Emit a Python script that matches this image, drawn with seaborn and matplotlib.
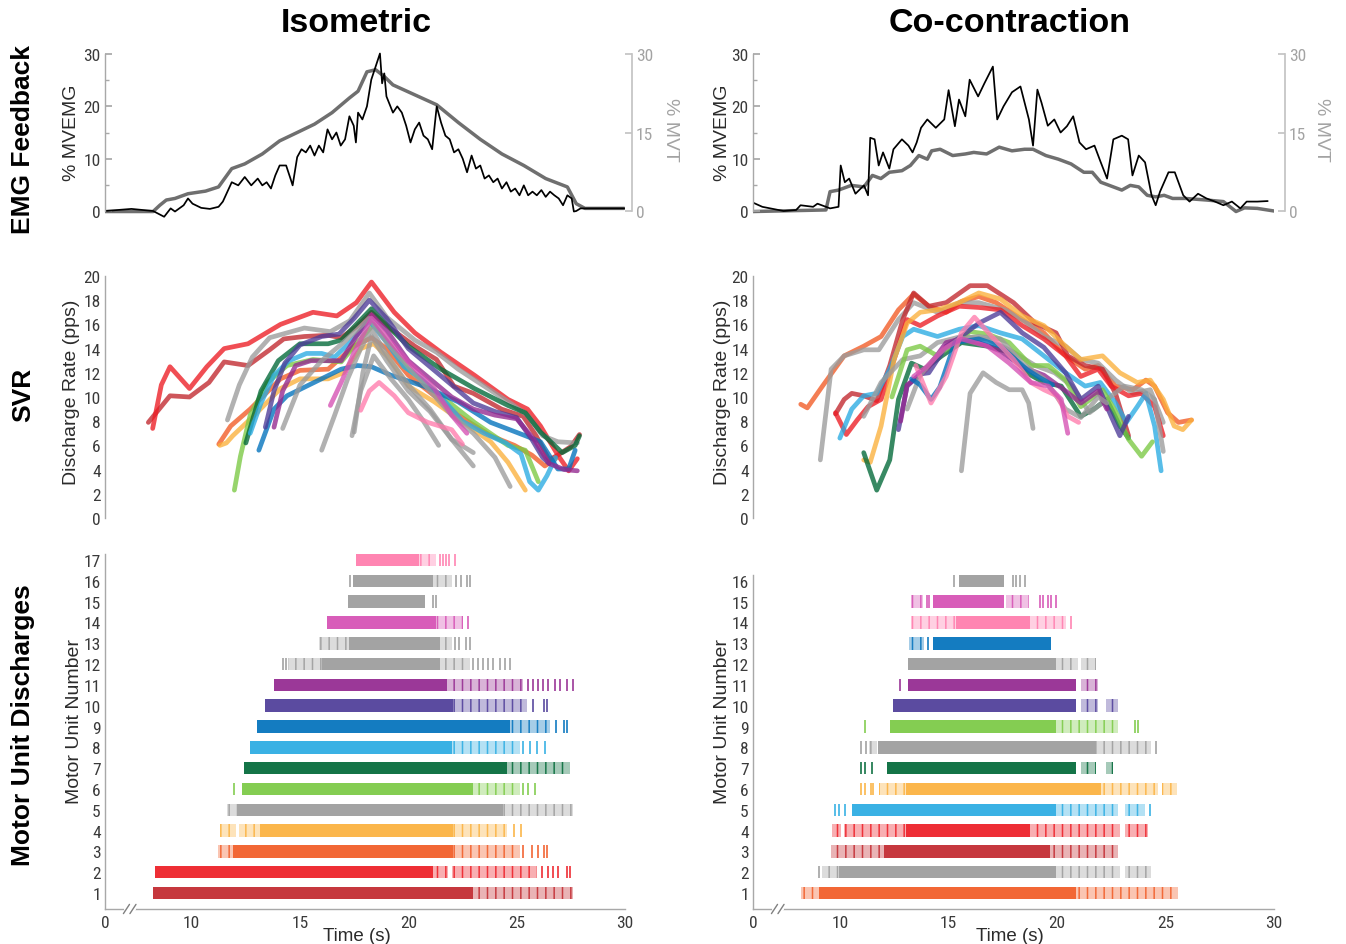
import matplotlib
matplotlib.use("Agg")
import matplotlib.pyplot as plt
import matplotlib.transforms as mtransforms
from matplotlib import font_manager
import seaborn as sns
import pandas as pd

# ---------------- colours ----------------
COL = {'darkred': '#c1272d', 'red': '#ed1c24', 'orange': '#f15a24', 'yellow': '#fbb03b',
       'gray': '#9b9b9b', 'lgreen': '#7ac943', 'dgreen': '#006837', 'lblue': '#29abe2',
       'blue': '#0071bc', 'indigo': '#4d3b98', 'purple': '#93278f', 'magenta': '#d54fb3',
       'pink': '#ff7bac'}

# ---------------- EMG feedback (black = %MVEMG, gray = %MVT) ----------------
emgL_t = [6.0, 7.22, 8.22, 8.73, 9.03, 9.23, 9.63, 9.83, 10.04, 10.44, 10.84, 11.24, 11.44, 11.65, 11.85,
          12.15, 12.45, 12.75, 13.05, 13.26, 13.46, 13.66, 13.86, 14.06, 14.36, 14.56, 14.66, 14.87, 15.07,
          15.27, 15.47, 15.67, 15.87, 16.07, 16.27, 16.48, 16.68, 16.88, 17.08, 17.28, 17.48, 17.58, 17.68,
          17.88, 18.09, 18.29, 18.49, 18.69, 18.79, 18.89, 18.99, 19.29, 19.49, 19.70, 19.90, 20.10, 20.30,
          20.50, 20.70, 20.90, 21.10, 21.31, 21.51, 21.71, 21.91, 22.11, 22.31, 22.51, 22.71, 22.92, 23.12,
          23.32, 23.52, 23.72, 23.92, 24.12, 24.32, 24.53, 24.73, 24.93, 25.13, 25.33, 25.53, 25.73, 25.93,
          26.14, 26.34, 26.54, 26.74, 26.94, 27.14, 27.34, 27.54, 27.64, 27.75, 27.95, 28.35, 29.96]
emgL_v = [0, 0.4, 0, -1.1, 0.5, -0.1, 1.1, 2.4, 1.4, 0.6, 0.4, 0.8, 1.8, 3.7, 5.5, 4.9, 6.5, 4.9, 6.2, 4.9,
          5.5, 4.3, 6.8, 8.7, 8.7, 6.2, 4.9, 10.3, 11.8, 11.2, 12.5, 10.6, 12.5, 11.2, 15.6, 13.7, 15.0, 12.5,
          13.7, 18.1, 16.3, 13.1, 18.8, 17.5, 20.0, 25.1, 27.6, 30.1, 24.4, 26.3, 21.9, 18.8, 20.0, 18.8, 16.3,
          13.1, 15.6, 16.9, 14.4, 13.7, 11.8, 20.0, 16.9, 14.4, 13.7, 11.2, 11.8, 10.0, 7.4, 10.6, 8.1, 8.7,
          6.2, 6.8, 5.5, 6.2, 4.3, 5.5, 3.7, 4.3, 3.0, 4.9, 3.0, 3.7, 3.0, 4.0, 2.7, 3.7, 3.0, 2.4, 1.1, 3.0,
          2.4, -0.1, 0, 0.5, 0.5, 0.5]
mvtL_t = [6.0, 8.22, 8.53, 8.83, 9.23, 9.83, 10.64, 11.24, 11.85, 12.45, 13.26, 14.06, 14.87, 15.67, 16.48,
          17.28, 17.68, 18.09, 18.49, 18.89, 19.29, 20.3, 21.31, 22.31, 23.32, 24.32, 25.33, 26.34, 27.34,
          27.75, 28.15, 29.96]
mvtL_v = [-0.1, -0.1, 1.1, 2.1, 2.4, 3.3, 3.8, 4.6, 8.1, 9.0, 10.9, 13.4, 15.0, 16.6, 18.8, 21.6, 22.9, 26.6,
          27.0, 25.7, 24.1, 22.2, 20.3, 16.9, 13.7, 10.9, 8.7, 6.2, 4.6, 1.4, 0.5, 0.5]

emgR_t = [6.0, 6.43, 7.41, 7.99, 8.19, 8.77, 8.97, 9.36, 9.55, 9.94, 10.04, 10.23, 10.43, 10.72, 11.11, 11.30,
          11.40, 11.60, 11.79, 11.99, 12.28, 12.47, 12.86, 13.16, 13.35, 13.54, 13.74, 14.03, 14.42, 14.81,
          15.01, 15.30, 15.49, 15.78, 15.98, 16.37, 16.66, 17.05, 17.25, 17.54, 17.93, 18.32, 18.71, 18.90,
          19.10, 19.29, 19.58, 19.88, 20.17, 20.46, 20.75, 21.04, 21.34, 21.73, 22.02, 22.31, 22.60, 22.99,
          23.28, 23.48, 23.77, 24.06, 24.36, 24.55, 24.75, 25.14, 25.43, 25.82, 26.11, 26.50, 26.89, 27.28,
          27.67, 28.06, 28.45, 28.74, 29.23, 29.71]
emgR_v = [1.6, 0.8, 0.0, 0.2, 1.1, 0.8, 1.4, 0.8, 0.5, 0.8, 8.7, 5.5, 6.2, 3.3, 4.9, 3.0, 14.0, 13.7, 8.7,
          11.2, 8.1, 11.8, 13.7, 12.5, 11.2, 13.1, 15.9, 17.5, 15.9, 17.5, 23.1, 16.2, 21.3, 18.1, 25.1, 21.9,
          24.4, 27.6, 17.5, 20.0, 22.7, 23.8, 17.5, 12.5, 23.2, 20.7, 16.3, 17.5, 15.0, 16.2, 18.1, 13.1, 11.8,
          12.5, 9.3, 6.2, 13.7, 14.4, 13.7, 6.8, 10.6, 9.3, 3.0, 1.1, 3.7, 7.4, 7.4, 3.0, 1.8, 3.3, 2.4, 1.8,
          1.1, 1.8, 0.5, 1.8, 1.8, 1.9]
mvtR_t = [6.0, 9.36, 9.55, 9.94, 10.53, 11.11, 11.50, 11.89, 12.28, 12.86, 13.25, 13.64, 14.03, 14.23, 14.62,
          15.20, 15.78, 16.17, 16.76, 17.34, 17.93, 18.51, 18.90, 19.49, 20.07, 20.65, 21.24, 21.63, 22.02,
          22.41, 22.99, 23.38, 23.77, 24.16, 24.55, 24.94, 25.33, 25.91, 26.89, 27.67, 28.25, 28.64, 29.23, 30.0]
mvtR_v = [-0.1, 0.2, 3.7, 4.0, 4.9, 4.6, 6.8, 6.2, 7.4, 7.7, 8.7, 10.6, 9.9, 11.5, 11.8, 10.6, 10.9, 11.2,
          10.9, 12.2, 11.5, 11.8, 11.8, 10.6, 9.9, 9.0, 7.4, 7.4, 5.5, 4.9, 4.0, 4.9, 4.6, 3.0, 2.7, 3.0, 2.4,
          2.4, 2.1, 1.8, -0.1, 0.6, 0.5, 0.0]

# ---------------- Motor unit colours (MU 1 .. N) ----------------
muL_col = ['darkred', 'red', 'orange', 'yellow', 'gray', 'lgreen', 'dgreen', 'lblue', 'blue', 'indigo',
           'purple', 'gray', 'gray', 'magenta', 'gray', 'gray', 'pink']
muR_col = ['orange', 'gray', 'darkred', 'red', 'lblue', 'yellow', 'dgreen', 'gray', 'lgreen', 'indigo',
           'purple', 'gray', 'blue', 'pink', 'magenta', 'gray']

# ---------------- SVR discharge rates (pps) ----------------
svrL_t = [
    [8.0, 8.5, 9.0, 9.9, 10.8, 11.5, 12.6, 13.6, 14.25, 15.2, 16.3, 16.9, 17.6, 18.3, 19.0, 20.3, 21.3, 22.1, 23.0, 24.3, 25.3, 25.9, 26.5, 26.9, 27.5, 27.9],
    [8.2, 8.6, 9.0, 9.5, 9.9, 10.7, 11.5, 12.6, 14.1, 15.6, 16.7, 17.6, 18.3, 19.35, 20.3, 21.5, 23.05, 24.6, 25.5, 26.1, 26.9, 27.4, 27.8],
    [11.25, 11.8, 12.7, 14.1, 15.0, 16.3, 17.5, 18.3, 19.0, 20.0, 21.2, 22.3, 23.8, 24.9, 25.7, 26.3, 26.8],
    [11.3, 11.6, 11.9, 12.9, 14.1, 15.0, 16.3, 17.0, 17.8, 18.4, 19.0, 20.0, 21.2, 22.3, 23.8, 24.6, 25.4],
    [11.65, 12.2, 12.8, 13.6, 15.2, 16.4, 17.3, 18.2, 19.0, 20.3, 21.3, 22.3, 23.5, 24.7, 25.5, 26.2, 26.9, 27.8],
    [11.97, 12.25, 12.7, 13.5, 14.4, 15.6, 16.9, 17.65, 18.4, 19.2, 20.0, 21.5, 23.05, 24.6, 25.4, 26.0],
    [12.5, 13.2, 14.0, 15.0, 16.3, 16.9, 18.3, 19.2, 20.0, 21.5, 23.05, 24.6, 25.4, 26.1, 27.1, 27.7, 27.9],
    [12.7, 13.2, 13.8, 14.5, 15.3, 16.0, 16.6, 17.3, 18.2, 19.0, 19.8, 20.6, 21.5, 22.5, 23.5, 24.5, 25.2, 25.6, 26.0, 26.4, 26.8],
    [13.1, 13.8, 14.4, 15.65, 16.9, 17.65, 18.3, 19.2, 20.7, 22.3, 23.8, 25.4, 26.1, 26.9, 27.4, 27.7],
    [13.4, 13.8, 14.3, 15.0, 16.0, 16.8, 17.5, 18.2, 19.0, 20.0, 21.0, 22.0, 23.0, 24.0, 25.0, 25.7, 26.2, 26.5],
    [13.8, 14.2, 14.8, 15.5, 16.3, 16.9, 17.6, 18.3, 19.0, 20.0, 21.0, 22.0, 23.0, 24.0, 25.0, 25.8, 26.5, 27.2, 27.8],
    [14.2, 15.0, 16.0, 17.0, 18.2, 19.0, 20.0, 21.0, 22.0, 23.0, 24.0, 24.7],
    [16.0, 16.6, 17.2, 17.8, 18.3, 19.0, 20.0, 21.0, 22.0, 23.0],
    [16.4, 16.9, 17.5, 18.3, 19.2, 20.0, 21.2, 22.0, 22.7],
    [17.4, 17.8, 18.4, 19.2, 20.0, 20.7, 21.4],
    [17.5, 17.9, 18.3, 19.0, 20.0, 21.0, 22.0, 23.0],
    [17.8, 18.2, 18.65, 19.35, 20.0, 20.9, 22.0, 22.5],
]
svrL_v = [
    [7.9, 9.0, 10.1, 10.0, 11.2, 12.9, 12.6, 13.9, 14.8, 15.0, 15.1, 14.9, 15.8, 17.0, 15.9, 14.2, 13.1, 10.9, 10.3, 9.0, 8.4, 6.8, 4.8, 5.2, 5.9, 6.9],
    [7.4, 11.0, 12.5, 11.5, 10.7, 12.5, 14.0, 14.4, 16.0, 17.0, 16.7, 17.8, 19.5, 17.0, 15.3, 13.7, 11.8, 9.8, 9.0, 7.6, 5.2, 3.9, 4.9],
    [6.1, 7.6, 9.0, 11.5, 12.2, 12.3, 14.2, 14.9, 14.0, 11.8, 10.1, 8.5, 6.8, 6.0, 5.2, 4.3, 4.9],
    [6.0, 6.2, 6.8, 8.5, 10.7, 11.5, 11.5, 12.0, 14.0, 14.4, 13.4, 10.9, 9.6, 8.2, 6.3, 4.6, 2.3],
    [8.1, 11.0, 13.3, 14.9, 15.7, 15.4, 16.3, 18.6, 16.6, 14.7, 13.7, 12.3, 10.9, 9.5, 8.5, 6.8, 6.3, 6.2],
    [2.3, 5.1, 8.5, 11.2, 12.6, 13.1, 12.9, 14.5, 16.0, 14.2, 12.3, 10.1, 7.9, 6.0, 5.6, 3.0],
    [6.2, 10.5, 13.0, 14.4, 14.4, 14.7, 17.3, 15.6, 14.2, 12.3, 10.7, 9.3, 8.7, 7.1, 5.4, 6.0, 6.8],
    [7.0, 9.5, 11.8, 13.0, 13.6, 13.6, 13.3, 14.5, 16.3, 14.5, 12.5, 11.5, 10.0, 8.0, 7.0, 6.2, 5.3, 3.0, 2.3, 3.5, 5.0],
    [5.6, 9.0, 10.1, 11.2, 12.3, 12.6, 12.5, 11.8, 10.9, 9.6, 7.9, 6.8, 6.3, 4.05, 4.05, 5.6],
    [7.5, 10.5, 12.8, 14.3, 15.0, 15.2, 16.5, 18.0, 16.5, 14.0, 12.5, 11.0, 9.5, 8.8, 8.3, 6.5, 5.0, 4.5],
    [7.5, 10.5, 12.6, 13.0, 13.0, 13.0, 15.0, 16.8, 15.5, 13.0, 11.5, 10.0, 9.0, 8.5, 8.2, 6.5, 4.5, 4.0, 3.9],
    [7.4, 11.0, 13.0, 14.5, 16.5, 14.5, 12.5, 10.5, 8.5, 7.0, 5.0, 2.6],
    [5.6, 8.5, 11.5, 14.0, 15.6, 13.5, 11.0, 9.0, 6.5, 4.3],
    [9.3, 11.2, 13.7, 16.5, 14.5, 12.9, 10.7, 8.5, 7.0],
    [6.8, 10.5, 13.4, 11.5, 9.8, 8.0, 6.0],
    [7.1, 12.0, 15.0, 13.0, 10.5, 8.8, 6.5, 5.4],
    [8.9, 10.5, 11.2, 10.1, 8.7, 7.9, 7.3, 6.1],
]
svrR_t = [
    [8.2, 8.5, 9.2, 10.2, 11.1, 11.9, 12.7, 13.4, 14.1, 14.9, 15.6, 16.4, 17.2, 18.4, 19.4, 20.4, 21.3, 21.9, 22.7, 23.5, 24.1, 24.5, 25.1, 25.6, 26.2],
    [9.1, 9.6, 10.2, 11.1, 11.8, 12.7, 13.4, 14.5, 15.5, 16.4, 17.6, 18.4, 19.4, 20.4, 21.1, 21.9, 22.7, 23.5, 24.3, 24.9],
    [9.8, 10.2, 10.55, 11.1, 11.7, 12.3, 12.9, 13.4, 14.1, 14.9, 16.0, 16.8, 18.0, 19.0, 19.96, 20.5, 21.3, 22.1, 22.7, 23.3],
    [9.8, 10.3, 10.8, 11.3, 11.9, 12.5, 13.1, 13.7, 14.5, 15.5, 16.4, 17.4, 18.4, 19.4, 20.4, 21.1, 21.9, 22.5, 23.3, 23.9, 24.5, 24.9],
    [10.0, 10.55, 11.1, 11.7, 12.3, 12.9, 13.4, 14.5, 15.5, 16.4, 17.4, 18.4, 19.4, 20.4, 21.3, 22.0, 22.7, 23.2, 23.7, 24.1, 24.5, 24.8],
    [11.1, 11.4, 11.9, 12.5, 13.1, 13.7, 14.5, 15.5, 16.4, 17.4, 18.4, 19.4, 20.4, 21.1, 22.1, 22.9, 23.7, 24.3, 24.9, 25.4, 25.8, 26.2],
    [11.1, 11.7, 12.3, 12.7, 13.3, 13.9, 14.7, 15.6, 16.8, 17.8, 18.6, 19.4, 20.2, 21.1, 21.7, 22.3, 22.9, 23.3],
    [11.1, 11.9, 12.9, 13.7, 14.5, 15.6, 16.8, 18.0, 19.0, 19.9, 20.7, 21.5, 22.3, 23.1, 23.9, 24.5, 24.9],
    [12.4, 13.1, 13.7, 14.5, 15.3, 16.0, 16.8, 17.8, 18.8, 19.6, 20.4, 21.1, 22.1, 22.7, 23.3, 23.9, 24.4],
    [12.7, 13.1, 13.7, 14.1, 14.9, 15.6, 16.4, 17.4, 18.4, 19.4, 20.4, 21.1, 21.9, 22.5, 22.9, 23.3],
    [12.8, 13.1, 13.7, 14.1, 14.9, 15.6, 16.4, 17.4, 18.4, 19.4, 20.4, 21.1, 21.9, 22.3],
    [13.1, 13.7, 14.5, 15.5, 16.4, 17.4, 18.4, 19.4, 20.4, 21.1, 21.9, 22.3],
    [13.3, 13.7, 14.2, 14.6, 15.3, 16.4, 17.4, 18.6, 19.2, 19.8],
    [13.5, 14.2, 14.9, 15.6, 16.2, 17.0, 18.0, 18.8, 19.4, 20.0, 20.5, 21.0],
    [13.4, 14.0, 14.8, 15.6, 16.8, 17.8, 18.8, 19.6, 20.2, 20.5],
    [15.6, 16.0, 16.6, 17.2, 17.8, 18.4, 18.7, 18.9],
]
svrR_v = [
    [9.4, 9.1, 10.9, 13.4, 14.2, 15.0, 17.2, 18.5, 17.5, 17.0, 17.9, 18.3, 17.8, 16.4, 15.3, 13.4, 12.3, 12.6, 10.9, 10.6, 11.4, 10.9, 8.7, 7.9, 8.1],
    [4.8, 12.3, 13.4, 13.9, 13.9, 16.4, 17.8, 17.0, 17.8, 17.8, 17.2, 16.4, 15.0, 14.2, 13.1, 12.8, 11.4, 10.3, 10.6, 7.9],
    [8.6, 9.8, 10.3, 10.1, 9.7, 12.6, 16.4, 18.6, 17.5, 17.8, 19.2, 19.2, 17.8, 16.1, 15.3, 13.4, 12.6, 12.3, 10.3, 6.8],
    [8.7, 6.9, 8.1, 9.2, 9.8, 13.1, 16.4, 15.9, 16.7, 17.5, 17.4, 17.2, 15.9, 14.8, 13.4, 11.7, 12.3, 10.9, 10.1, 10.3, 9.2, 6.8],
    [6.6, 9.0, 10.1, 10.3, 12.3, 15.0, 15.6, 15.0, 15.6, 15.9, 15.3, 14.8, 13.4, 12.0, 10.9, 11.2, 9.5, 7.9, 9.2, 10.3, 7.6, 3.9],
    [4.8, 4.6, 7.6, 13.1, 16.1, 17.0, 17.2, 17.8, 18.6, 18.1, 16.7, 15.9, 14.2, 13.1, 13.4, 12.0, 11.2, 11.4, 9.8, 7.6, 7.3, 8.1],
    [5.4, 2.3, 4.8, 9.8, 12.8, 12.3, 13.4, 14.5, 14.2, 13.7, 12.0, 11.2, 10.9, 8.4, 9.0, 9.8, 7.6, 6.6],
    [8.4, 11.2, 13.1, 13.4, 14.5, 15.0, 14.8, 13.7, 12.6, 12.0, 10.9, 8.7, 9.8, 10.9, 10.6, 9.8, 5.5],
    [10.0, 13.9, 14.2, 13.4, 14.5, 15.4, 15.2, 14.5, 12.6, 12.6, 11.4, 9.2, 10.6, 8.8, 6.5, 5.1, 6.3],
    [7.3, 10.9, 11.9, 12.0, 14.2, 15.0, 16.1, 17.0, 15.3, 14.1, 12.0, 9.8, 10.9, 8.4, 6.8, 8.4],
    [8.0, 11.0, 11.8, 12.5, 14.5, 14.8, 14.5, 13.8, 12.5, 11.8, 10.5, 9.5, 10.5, 9.0],
    [9.0, 11.8, 13.5, 14.8, 15.0, 14.8, 12.8, 11.5, 9.0, 8.3, 10.0, 9.5],
    [11.5, 11.0, 9.8, 10.8, 14.5, 14.8, 14.2, 12.3, 11.6, 11.0],
    [12.6, 9.5, 11.7, 15.3, 16.6, 15.0, 13.1, 11.2, 10.6, 10.1, 8.4, 7.9],
    [11.7, 12.5, 14.0, 14.8, 14.2, 12.8, 11.2, 10.9, 9.8, 7.0],
    [3.9, 10.3, 12.0, 11.2, 10.6, 10.6, 9.5, 7.4],
]

# ---------------- Motor unit discharges: dense / sparse firing periods and isolated spikes (s) ----------------
rasL_dense = [[(8.2, 23.0)], [(8.31, 21.15)], [(11.9, 22.08)], [(13.15, 22.08)], [(12.08, 24.38)],
              [(12.31, 23.0)], [(12.43, 24.54)], [(12.69, 22.0)], [(13.03, 24.69)], [(13.38, 22.08)],
              [(13.82, 21.77)], [(16.0, 21.46)], [(17.28, 21.46)], [(16.26, 21.3)], [(17.23, 20.77)],
              [(17.46, 21.15)], [(17.6, 20.5)]]
rasL_sparse = [[(23.0, 27.62)], [(21.15, 21.85), (22.0, 25.92)], [(11.23, 11.9), (22.08, 25.15)],
               [(11.31, 12.05), (12.2, 13.15), (22.08, 24.54)], [(11.65, 12.08), (24.38, 27.62)],
               [(23.0, 25.15)], [(24.54, 27.46)], [(22.0, 25.15)], [(24.69, 26.54)], [(22.08, 25.46)],
               [(21.77, 25.3)], [(14.45, 16.0), (21.46, 22.85)], [(15.88, 17.28), (21.46, 22.0)],
               [(21.3, 22.54)], [], [(21.15, 22.0)], [(20.5, 21.3)]]
rasL_spikes = [[], [26.15, 26.46, 26.69, 26.92, 27.31, 27.46], [25.31, 25.69, 26.0, 26.26, 26.38], [24.88, 25.18],
               [], [11.97, 25.31, 25.54, 25.85], [], [25.31, 25.62, 25.92, 26.31], [26.82, 27.18, 27.34],
               [25.74, 26.26, 26.42], [25.54, 25.74, 26.0, 26.23, 26.46, 26.77, 27.0, 27.31, 27.62],
               [14.2, 14.34, 23.0, 23.23, 23.46, 23.69, 23.89, 24.23, 24.46, 24.69], [22.15, 22.35, 22.66, 22.85],
               [22.77], [21.12, 21.3], [17.3, 22.2, 22.42, 22.7, 22.85], [21.45, 21.6, 21.75, 21.9, 22.15]]

rasR_dense = [[(9.05, 20.89)], [(9.97, 19.97)], [(12.05, 19.66)], [(13.05, 18.74)], [(10.58, 19.97)],
              [(13.05, 22.05)], [(12.15, 20.89)], [(11.74, 21.82)], [(12.32, 19.97)], [(12.43, 20.89)],
              [(13.12, 20.89)], [(13.12, 19.97)], [(14.28, 19.74)], [(15.35, 18.74)], [(14.28, 17.58)],
              [(15.51, 17.58)]]
rasR_sparse = [[(8.2, 9.05), (20.89, 25.58)], [(9.17, 9.97), (19.97, 22.89), (23.12, 24.35)],
               [(9.58, 12.05), (19.66, 22.82)], [(9.63, 10.05), (10.2, 13.05), (18.74, 22.89), (23.12, 24.2)],
               [(19.97, 22.82), (23.12, 24.05)], [(11.82, 13.05), (22.05, 24.66), (24.86, 25.51)],
               [(21.12, 21.82), (22.28, 22.58)], [(11.35, 11.69), (21.82, 24.35)], [(19.97, 22.82)],
               [(21.12, 21.89), (22.28, 22.82)], [(21.12, 21.89)], [(19.97, 20.97), (21.12, 21.82)],
               [(13.2, 13.89)], [(13.28, 15.35), (18.74, 20.4)], [(13.28, 13.82), (17.66, 18.71)], []]
rasR_spikes = [[], [9.02], [], [], [9.8, 9.95, 10.25, 24.31], [10.97, 11.17, 11.43, 11.54],
               [10.97, 11.17, 11.48], [10.97, 11.2, 24.55], [11.17, 23.58, 23.74], [], [12.78], [], [14.05],
               [20.66], [14.0, 14.1, 19.2, 19.35, 19.58, 19.74, 19.97], [15.25, 17.97, 18.12, 18.28, 18.51]]

time_ticks = [6, 10, 15, 20, 25, 30]
time_labels = ['0', '10', '15', '20', '25', '30']

# ---------------- style ----------------
sns.set_theme(style='white')
avail = {f.name for f in font_manager.fontManager.ttflist}
def pick(*names):
    return [n for n in names if n in avail] + ['DejaVu Sans']
NARROW = pick('Liberation Sans Narrow', 'Arial Narrow', 'Roboto Condensed', 'DejaVu Sans Condensed',
              'Liberation Sans')
SANS = pick('Liberation Sans', 'Arial')
plt.rcParams['font.family'] = NARROW
plt.rcParams['hatch.linewidth'] = 1.1

SPINE = '#a8a8a8'
TICKLAB = '#3a3a3a'
LABCOL = '#2b2b2b'
TS = 12.5

fig = plt.figure(figsize=(13.46, 9.45), dpi=100)
W, H = 1346.0, 945.0
colx = [(105, 520), (753, 521)]

def axes_px(x0, w, ytop, ybot):
    return fig.add_axes([x0 / W, 1 - ybot / H, w / W, (ybot - ytop) / H])

def basic(ax):
    ax.set_facecolor('none')
    for s in ['top', 'right']:
        ax.spines[s].set_visible(False)
    for s in ax.spines.values():
        s.set_color(SPINE)
        s.set_linewidth(1.0)
    ax.set_xlim(6, 30)

# ---------------- EMG row ----------------
emg_data = [(emgL_t, emgL_v, mvtL_t, mvtL_v, 1.013, 1.087, -0.0635),
            (emgR_t, emgR_v, mvtR_t, mvtR_v, 1.021, 1.092, -0.0595)]
for (x0, w), (et, ev, mt, mv, roff, rlab, llab) in zip(colx, emg_data):
    ax = axes_px(x0, w, 49.8, 219.85)
    basic(ax)
    ax2 = ax.twinx()
    ax2.set_ylim(-1.5, 31)
    ax.set_ylim(-1.5, 31)
    sns.lineplot(data=pd.DataFrame({'t': mt, 'v': mv}), x='t', y='v', ax=ax2, color='#6f6f6f',
                 lw=2.5, estimator=None, sort=False)
    sns.lineplot(data=pd.DataFrame({'t': et, 'v': ev}), x='t', y='v', ax=ax, color='black',
                 lw=1.25, estimator=None, sort=False)
    ax.set_zorder(ax2.get_zorder() + 1)
    ax.patch.set_visible(False)
    ax.spines['bottom'].set_visible(False)
    ax.spines['left'].set_bounds(0, 30)
    ax.set_xticks([])
    ax.set_xlabel('')
    ax.set_yticks([0, 10, 20, 30])
    ax.set_yticks([5, 15, 25], minor=True)
    ax.tick_params(axis='y', which='major', direction='in', length=5, color=SPINE,
                   labelcolor=TICKLAB, labelsize=TS, pad=3)
    ax.tick_params(axis='y', which='minor', direction='in', length=3, color=SPINE)
    ax.set_ylabel('% MVEMG', fontsize=14, color=LABCOL, family=SANS)
    ax.yaxis.label.set_va('center')
    ax.yaxis.set_label_coords(llab, 0.51)
    for s in ['top', 'left', 'bottom']:
        ax2.spines[s].set_visible(False)
    ax2.spines['right'].set_position(('axes', roff))
    ax2.spines['right'].set_bounds(0, 30)
    ax2.spines['right'].set_color('#c4c4c4')
    ax2.set_xticks([])
    ax2.set_xlabel('')
    ax2.set_yticks([0, 15, 30])
    ax2.tick_params(axis='y', direction='in', length=5, color='#c4c4c4', labelcolor='#a3a3a3',
                    labelsize=TS, pad=3)
    ax2.set_ylabel('% MVT', fontsize=14, color='#a3a3a3', rotation=270, family=SANS)
    ax2.yaxis.label.set_va('center')
    ax2.yaxis.set_label_coords(rlab, 0.53)

# ---------------- SVR row ----------------
svr_data = [(svrL_t, svrL_v, muL_col, -0.0635), (svrR_t, svrR_v, muR_col, -0.0595)]
for (x0, w), (st, sv, cols, llab) in zip(colx, svr_data):
    ax = axes_px(x0, w, 277, 519)
    basic(ax)
    rows = []
    for i, (tt, vv) in enumerate(zip(st, sv)):
        for a, b in zip(tt, vv):
            rows.append({'t': a, 'v': b, 'mu': f'MU{i + 1}'})
    df = pd.DataFrame(rows)
    pal = {f'MU{i + 1}': COL[c] for i, c in enumerate(cols)}
    sns.lineplot(data=df, x='t', y='v', hue='mu', palette=pal, ax=ax, lw=3.4, alpha=0.78,
                 estimator=None, sort=False, legend=False, solid_capstyle='round', solid_joinstyle='round')
    ax.set_ylim(0, 20)
    ax.spines['bottom'].set_visible(False)
    ax.set_xticks([])
    ax.set_xlabel('')
    ax.set_yticks(range(0, 21, 2))
    ax.tick_params(axis='y', direction='in', length=4, color=SPINE, labelcolor=TICKLAB,
                   labelsize=TS, pad=3)
    ax.set_ylabel('Discharge Rate (pps)', fontsize=14, color=LABCOL, family=SANS)
    ax.yaxis.label.set_va('center')
    ax.yaxis.set_label_coords(llab, 0.525)

# ---------------- raster row ----------------
ras_data = [(rasL_dense, rasL_sparse, rasL_spikes, muL_col, -0.058, 0.485),
            (rasR_dense, rasR_sparse, rasR_spikes, muR_col, -0.0576, 0.493)]
for (x0, w), (dense, sparse, spikes, cols, llab, xlab) in zip(colx, ras_data):
    ax = axes_px(x0, w, 554.8, 910)
    basic(ax)
    n = len(cols)
    ax.set_ylim(0.23, 17.3)
    for i in range(n):
        y = i + 1
        c = COL[cols[i]]
        if dense[i]:
            ax.broken_barh([(a, b - a) for a, b in dense[i]], (y - 0.3, 0.6), facecolors=c,
                           alpha=0.92, lw=0)
        if sparse[i]:
            ax.broken_barh([(a, b - a) for a, b in sparse[i]], (y - 0.3, 0.6), facecolors=c,
                           alpha=0.35, lw=0)
            ax.broken_barh([(a, b - a) for a, b in sparse[i]], (y - 0.3, 0.6), facecolors='none',
                           edgecolors=c, hatch='||', alpha=0.85, lw=0)
        if spikes[i]:
            ax.vlines(spikes[i], y - 0.3, y + 0.3, colors=c, lw=1.3, alpha=0.85)
    ax.spines['left'].set_bounds(0.23, n + 0.3)
    ax.set_yticks(range(1, n + 1))
    ax.tick_params(axis='y', direction='in', length=4, color=SPINE, labelcolor=TICKLAB,
                   labelsize=TS, pad=3)
    ax.set_xticks(time_ticks)
    ax.set_xticklabels(time_labels)
    ax.tick_params(axis='x', direction='in', length=6, color='#eba3aa', labelcolor=TICKLAB,
                   labelsize=TS, pad=4)
    xt = ax.xaxis.get_major_ticks()
    xt[-1].tick1line.set_color(SPINE)
    xt[0].tick1line.set_visible(False)
    ax.set_ylabel('Motor Unit Number', fontsize=14, color=LABCOL, family=SANS)
    ax.yaxis.label.set_va('center')
    ax.yaxis.set_label_coords(llab, 0.53)
    ax.set_xlabel('Time (s)', fontsize=13.5, color=LABCOL, family=SANS)
    ax.xaxis.set_label_coords(xlab, -0.05)
    trans = mtransforms.blended_transform_factory(ax.transData, ax.transAxes)
    ax.plot([6.95, 7.35], [0, 0], color='white', lw=3, transform=trans, clip_on=False, zorder=5)
    for xs in (6.85, 7.15):
        ax.plot([xs, xs + 0.28], [-0.013, 0.013], color='#808080', lw=1.0, transform=trans,
                clip_on=False, zorder=6)

# ---------------- titles & row labels ----------------
fig.text(356 / W, 1 - 24 / H, 'Isometric', ha='center', va='center', fontsize=24.5,
         fontweight='bold', family=SANS, color='black')
fig.text(1010 / W, 1 - 24 / H, 'Co-contraction', ha='center', va='center', fontsize=24.5,
         fontweight='bold', family=SANS, color='black')
for txt, yc in [('EMG Feedback', 140), ('SVR', 395), ('Motor Unit Discharges', 725)]:
    fig.text(23 / W, 1 - yc / H, txt, rotation=90, ha='center', va='center', fontsize=19,
             fontweight='bold', family=SANS, color='black')

fig.savefig('out.png', dpi=100, facecolor='white')
